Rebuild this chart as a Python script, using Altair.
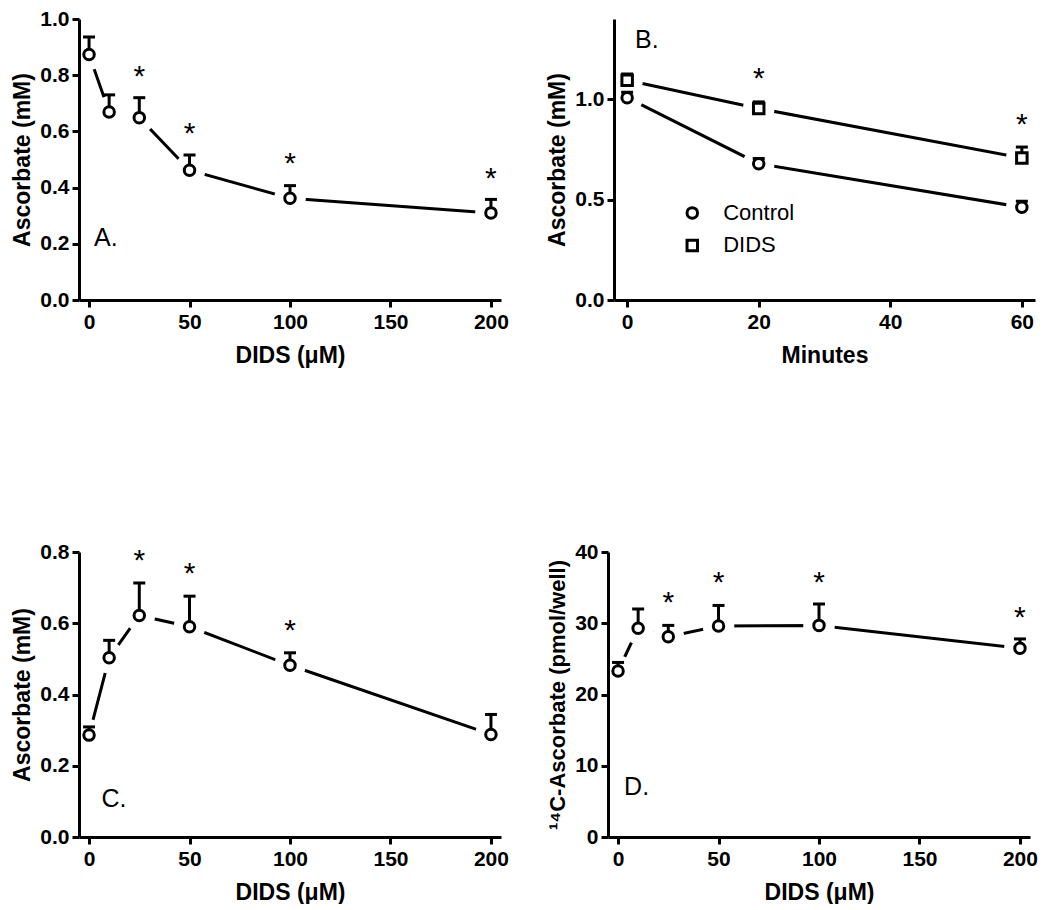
import altair as alt
import pandas as pd

FONT = "Liberation Sans"

# ---------------- Panel A ----------------
a_dids = [0, 10, 25, 50, 100, 200]
a_mean = [0.874, 0.669, 0.649, 0.462, 0.362, 0.310]
a_top = [0.936, 0.730, 0.720, 0.516, 0.407, 0.358]
a_star_x = [25, 50, 100, 200]
a_star_y = [0.804, 0.600, 0.495, 0.442]

# ---------------- Panel B ----------------
b_min = [0, 20, 60]
b_ctrl_mean = [1.008, 0.679, 0.462]
b_ctrl_top = [1.035, 0.705, 0.492]
b_dids_mean = [1.095, 0.954, 0.708]
b_dids_top = [1.126, 0.987, 0.762]
b_star_x = [20, 60]
b_star_y = [1.115, 0.885]
b_legend_labels = ["Control", "DIDS"]
b_legend_shapes = ["circle", "square"]

# ---------------- Panel C ----------------
c_dids = [0, 10, 25, 50, 100, 200]
c_mean = [0.286, 0.503, 0.622, 0.590, 0.482, 0.288]
c_top = [0.309, 0.552, 0.713, 0.676, 0.517, 0.344]
c_star_x = [25, 50, 100]
c_star_y = [0.783, 0.746, 0.587]

# ---------------- Panel D ----------------
d_dids = [0, 10, 25, 50, 100, 200]
d_mean = [23.3, 29.3, 28.1, 29.6, 29.7, 26.5]
d_top = [24.5, 32.0, 29.7, 32.5, 32.7, 27.8]
d_star_x = [25, 50, 100, 200]
d_star_y = [33.2, 36.1, 36.1, 31.2]


def frame(xs, means, tops, group):
    return pd.DataFrame({"x": xs, "y": means, "top": tops, "group": group})


def panel(df, stars, letter, letter_pos, xdom, xticks, ydom, yticks, yfmt,
          xtitle, ytitle, w, h, legend=None, ytitle_size=23):
    x = alt.X("x:Q", scale=alt.Scale(domain=xdom, nice=False, zero=False),
              axis=alt.Axis(values=xticks, title=xtitle, format="d", zindex=1))
    y = alt.Y("y:Q", scale=alt.Scale(domain=ydom, nice=False, zero=False),
              axis=alt.Axis(values=yticks, title=ytitle, format=yfmt, zindex=1,
                            titleLimit=600, titleFontSize=ytitle_size))
    base = alt.Chart(df)
    line = base.mark_line(color="black", strokeWidth=3).encode(
        x=x, y=y, detail="group:N", order="x:Q")
    halo = base.mark_point(shape="circle", filled=True, color="white",
                           size=1000, opacity=1).encode(x=x, y=y)
    stem = base.mark_rule(color="black", strokeWidth=3).encode(
        x=x, y=y, y2="top:Q")
    cap = base.mark_tick(orient="horizontal", color="black", size=12,
                         thickness=3, opacity=1).encode(x=x, y=alt.Y("top:Q"))
    shape_scale = alt.Scale(domain=b_legend_labels, range=b_legend_shapes)
    marker = base.mark_point(fill="white", stroke="black", strokeWidth=3,
                             size=110, opacity=1, fillOpacity=1).encode(
        x=x, y=y,
        shape=alt.Shape("group:N", scale=shape_scale, legend=None)
        if legend is not None else alt.value("circle"))
    star = alt.Chart(stars).mark_text(
        text="*", font=FONT, fontSize=30, color="black", baseline="alphabetic",
        dy=12).encode(x=alt.X("x:Q"), y=alt.Y("y:Q"))
    lab = alt.Chart(pd.DataFrame({"x": [letter_pos[0]], "y": [letter_pos[1]]})).mark_text(
        text=letter, font=FONT, fontSize=25, color="black", align="left",
        baseline="alphabetic").encode(x=alt.X("x:Q"), y=alt.Y("y:Q"))
    layers = [line, halo, stem, cap, marker, star, lab]
    if legend is not None:
        ldf = pd.DataFrame({"label": b_legend_labels, "x": legend["sym_x"],
                            "tx": legend["txt_x"], "y": legend["y"]})
        lsym = alt.Chart(ldf).mark_point(fill="white", stroke="black",
                                         strokeWidth=3, size=110, opacity=1,
                                         fillOpacity=1).encode(
            x=alt.X("x:Q"), y=alt.Y("y:Q"),
            shape=alt.Shape("label:N", scale=shape_scale, legend=None))
        ltxt = alt.Chart(ldf).mark_text(font=FONT, fontSize=22, color="black",
                                        align="left", baseline="middle").encode(
            x=alt.X("tx:Q"), y=alt.Y("y:Q"), text="label:N")
        layers += [lsym, ltxt]
    return alt.layer(*layers).properties(width=w, height=h)


dfA = frame(a_dids, a_mean, a_top, "A")
dfB = pd.concat([frame(b_min, b_ctrl_mean, b_ctrl_top, "Control"),
                 frame(b_min, b_dids_mean, b_dids_top, "DIDS")])
dfC = frame(c_dids, c_mean, c_top, "C")
dfD = frame(d_dids, d_mean, d_top, "D")

sA = pd.DataFrame({"x": a_star_x, "y": a_star_y})
sB = pd.DataFrame({"x": b_star_x, "y": b_star_y})
sC = pd.DataFrame({"x": c_star_x, "y": c_star_y})
sD = pd.DataFrame({"x": d_star_x, "y": d_star_y})

pA = panel(dfA, sA, "A.", (2.5, 0.192), [-5, 205], [0, 50, 100, 150, 200],
           [0, 1.0], [0, 0.2, 0.4, 0.6, 0.8, 1.0], ".1f",
           "DIDS (μM)", "Ascorbate (mM)", 422, 281)
pB = panel(dfB, sB, "B.", (1.2, 1.254), [-2, 62], [0, 20, 40, 60],
           [0, 1.4], [0, 0.5, 1.0], ".1f",
           "Minutes", "Ascorbate (mM)", 421, 281,
           legend={"sym_x": [9.9, 9.9], "txt_x": [14.6, 14.6], "y": [0.434, 0.272]})
pC = panel(dfC, sC, "C.", (6.2, 0.085), [-5, 205], [0, 50, 100, 150, 200],
           [0, 0.8], [0, 0.2, 0.4, 0.6, 0.8], ".1f",
           "DIDS (μM)", "Ascorbate (mM)", 422, 285)
pD = panel(dfD, sD, "D.", (3, 5.85), [-5, 205], [0, 50, 100, 150, 200],
           [0, 40], [0, 10, 20, 30, 40], "d",
           "DIDS (μM)", "¹⁴C-Ascorbate (pmol/well)", 422, 285, ytitle_size=22)

row1 = alt.hconcat(pA, pB, spacing=37).resolve_scale(x="independent", y="independent")
row2 = alt.hconcat(pC, pD, spacing=37).resolve_scale(x="independent", y="independent")

chart = alt.vconcat(row1, row2, spacing=174).properties(
    padding={"top": 0, "left": 3, "right": 0, "bottom": 0}
).configure_view(stroke=None).configure_axis(
    grid=False, domainColor="black", domainWidth=3, tickColor="black",
    tickWidth=3, tickSize=7, labelFont=FONT, labelFontSize=21,
    labelFontWeight="bold", labelColor="black", titleFont=FONT,
    titleFontSize=23, titleFontWeight="bold", titleColor="black",
).configure_axisY(labelPadding=3, titlePadding=5).configure_axisX(
    labelPadding=4, titlePadding=12)

chart.save("out.html", embed_options={"renderer": "svg", "actions": False})
